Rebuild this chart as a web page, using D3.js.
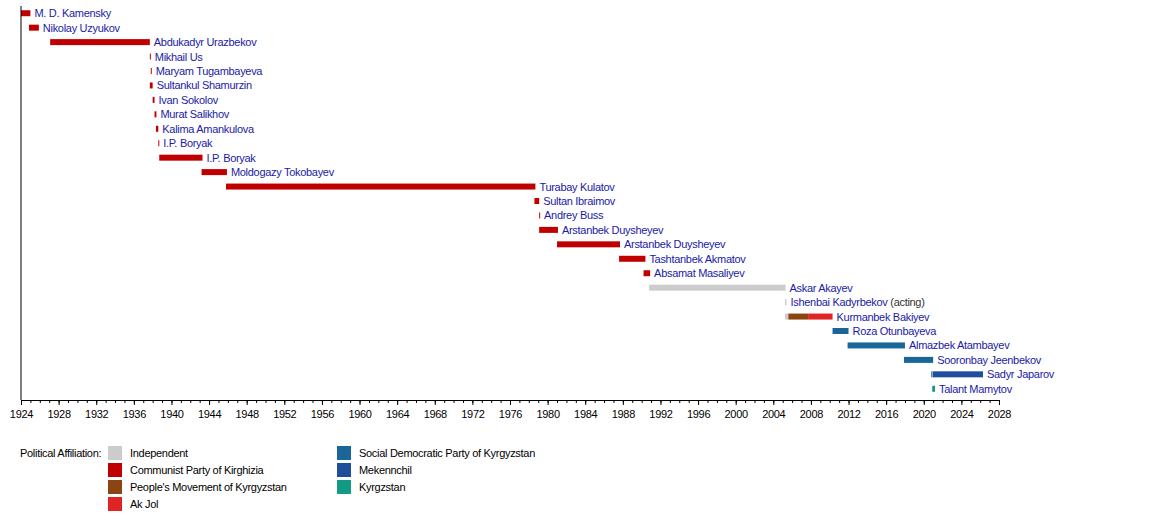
<!DOCTYPE html>
<html>
<head>
<meta charset="utf-8">
<script src="https://cdn.jsdelivr.net/npm/d3@7"></script>
<style>
  body { margin: 0; background: #fff; }
  text { font-family: "Liberation Sans", Arial, sans-serif; }
</style>
</head>
<body>
<script>
// leaders, one row each
var names = ["M. D. Kamensky", "Nikolay Uzyukov", "Abdukadyr Urazbekov", "Mikhail Us",
  "Maryam Tugambayeva", "Sultankul Shamurzin", "Ivan Sokolov", "Murat Salikhov",
  "Kalima Amankulova", "I.P. Boryak", "I.P. Boryak", "Moldogazy Tokobayev",
  "Turabay Kulatov", "Sultan Ibraimov", "Andrey Buss", "Arstanbek Duysheyev",
  "Arstanbek Duysheyev", "Tashtanbek Akmatov", "Absamat Masaliyev", "Askar Akayev",
  "Ishenbai Kadyrbekov", "Kurmanbek Bakiyev", "Roza Otunbayeva", "Almazbek Atambayev",
  "Sooronbay Jeenbekov", "Sadyr Japarov", "Talant Mamytov"];
var notes = {20: " (acting)"};

// bar segments: row, start, end, party index
var segRow   = [0, 1, 2, 3, 4, 5, 6, 7, 8, 9, 10, 11, 12, 13, 14, 15, 16, 17, 18, 19, 20, 21, 21, 21, 22, 23, 24, 25, 25, 26];
var segStart = [1924, 1924.85, 1927.1, 1937.7, 1937.8, 1937.7, 1938, 1938.2, 1938.35, 1938.6, 1938.7, 1943.2, 1945.8, 1978.6, 1979.1, 1979.1, 1981, 1987.6, 1990.2, 1990.8, 2005.25, 2005.25, 2005.6, 2007.7, 2010.3, 2011.9, 2017.9, 2020.8, 2020.95, 2020.9];
var segEnd   = [1925, 1925.9, 1937.7, 1937.8, 1937.9, 1938, 1938.2, 1938.4, 1938.6, 1938.7, 1943.3, 1945.9, 1978.7, 1979.1, 1979.2, 1981.1, 1987.7, 1990.4, 1990.9, 2005.3, 2005.4, 2005.6, 2007.7, 2010.3, 2012, 2018, 2021, 2020.9, 2026.3, 2021.2];
var segParty = [1, 1, 1, 1, 1, 1, 1, 1, 1, 1, 1, 1, 1, 1, 1, 1, 1, 1, 1, 0, 0, 0, 2, 3, 4, 4, 4, 5, 5, 6];

var parties = ["Independent", "Communist Party of Kirghizia", "People's Movement of Kyrgyzstan",
  "Ak Jol", "Social Democratic Party of Kyrgyzstan", "Mekennchil", "Kyrgzstan"];
var partyColors = ["#cccccc", "#c00000", "#8b4513", "#e02424", "#1b6699", "#1f4e9c", "#139a85"];

var w = 1150, h = 520;
var svg = d3.select("body").append("svg").attr("width", w).attr("height", h);

var x = d3.scaleLinear().domain([1924, 2028]).range([21, 999]);
var y = d3.scaleBand().domain(d3.range(names.length)).range([6, 396]);

// bars
svg.selectAll("rect.bar")
  .data(segRow)
  .enter().append("rect")
    .attr("class", "bar")
    .attr("x", function(d, i) { return x(segStart[i]); })
    .attr("y", function(d) { return y(d) + y.bandwidth() / 2 - 3; })
    .attr("width", function(d, i) { return Math.max(1, x(segEnd[i]) - x(segStart[i])); })
    .attr("height", 6)
    .attr("fill", function(d, i) { return partyColors[segParty[i]]; });

// end of each row for labels
var rowEnd = names.map(function(n, r) {
  return d3.max(segRow.map(function(d, i) { return d === r ? segEnd[i] : -Infinity; }));
});

var labels = svg.selectAll("text.name")
  .data(names)
  .enter().append("text")
    .attr("class", "name")
    .attr("x", function(d, i) { return x(rowEnd[i]) + 4; })
    .attr("y", function(d, i) { return y(i) + y.bandwidth() / 2 + 4; })
    .attr("font-size", 11)
    .attr("letter-spacing", -0.3)
    .attr("fill", "#1a1aa6")
    .text(function(d) { return d; });
labels.filter(function(d, i) { return notes[i]; })
  .append("tspan").attr("fill", "#333").text(function(d, i) { return notes[20]; });

// vertical line
svg.append("line").attr("x1", 21).attr("x2", 21).attr("y1", 6).attr("y2", 400)
  .attr("stroke", "#000");

// time axis
var minor = d3.axisBottom(x).tickValues(d3.range(1924, 2029)).tickSize(3).tickFormat("");
svg.append("g").attr("transform", "translate(0,400)").call(minor)
  .call(function(g) { g.select(".domain").remove(); });
var major = d3.axisBottom(x).tickValues(d3.range(1924, 2029, 4)).tickSize(5)
  .tickSizeOuter(0).tickFormat(d3.format("d"));
var ga = svg.append("g").attr("transform", "translate(0,400)").call(major);
ga.selectAll("text").attr("font-size", 11).attr("letter-spacing", -0.3).attr("fill", "#000")
  .attr("dy", "0.9em").style("font-family", "'Liberation Sans', Arial, sans-serif");

// legend
svg.append("text").attr("x", 20).attr("y", 457).attr("font-size", 11)
  .attr("letter-spacing", -0.3).text("Political Affiliation:");
var leg = svg.selectAll("g.leg")
  .data(parties)
  .enter().append("g")
    .attr("class", "leg")
    .attr("transform", function(d, i) {
      var col = i < 4 ? 0 : 1, row = i < 4 ? i : i - 4;
      return "translate(" + (col ? 337 : 108) + "," + (446 + row * 17) + ")";
    });
leg.append("rect").attr("width", 14).attr("height", 14)
  .attr("fill", function(d, i) { return partyColors[i]; });
leg.append("text").attr("x", 22).attr("y", 11).attr("font-size", 11)
  .attr("letter-spacing", -0.3).text(function(d) { return d; });
</script>
</body>
</html>
